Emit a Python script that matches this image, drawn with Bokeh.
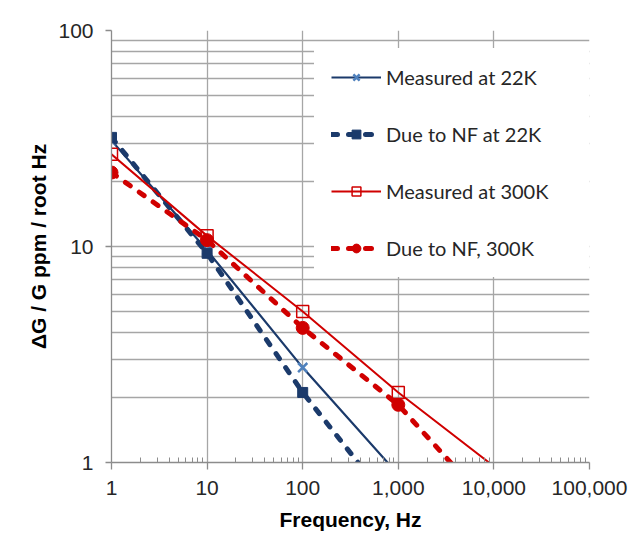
from bokeh.plotting import figure
from bokeh.models import FixedTicker, NumeralTickFormatter, Legend, LegendItem
from bokeh.embed import file_html
from bokeh.resources import INLINE

# ---- data ----
freq = [1, 10, 100, 1000, 10000]
meas_22k = [31, 9.6, 2.75, 0.88]
nf_22k = [32, 9.3, 2.11, 0.58]
meas_300k = [26.7, 11.2, 5.0, 2.11, 0.96]
nf_300k = [22, 10.7, 4.2, 1.85, 0.6]

x_ticks = [1, 10, 100, 1000, 10000, 100000]
y_ticks = [1, 10, 100]
x_minor = [m * 10 ** k for k in range(5) for m in range(2, 10)]
y_minor = [m * 10 ** k for k in range(2) for m in range(2, 10)]

NAVY = "#1B3A6B"
LBLUE = "#4F81BD"
RED = "#D00000"
GRID = "#A6A6A6"
AXIS = "#8C8C8C"
TXT = "#262626"
FONT = "Liberation Sans"

p = figure(width=630, height=555, x_axis_type="log", y_axis_type="log",
           x_range=(1, 100000), y_range=(1, 100),
           output_backend="svg", toolbar_location=None,
           min_border_left=111, min_border_right=41,
           min_border_top=30, min_border_bottom=93)
p.outline_line_color = None
p.background_fill_color = "white"
p.border_fill_color = "white"


def visible(xs, ys):
    pts = [(a, b) for a, b in zip(xs, ys) if b >= 1]
    return [a for a, _ in pts], [b for _, b in pts]


r1 = p.line(freq[:len(meas_22k)], meas_22k, line_color=NAVY, line_width=2.2)
mx, my = visible(freq, meas_22k)
r1m = p.scatter(mx, my, marker="x", size=13, line_color=LBLUE, line_width=2.5)

r2 = p.line(freq[:len(nf_22k)], nf_22k, line_color=NAVY, line_width=5,
            line_dash="6 11", line_cap="round")
mx, my = visible(freq, nf_22k)
r2m = p.scatter(mx, my, marker="square", size=10, fill_color=NAVY, line_color=NAVY)

r3 = p.line(freq[:len(meas_300k)], meas_300k, line_color=RED, line_width=2)
mx, my = visible(freq, meas_300k)
r3m = p.scatter(mx, my, marker="square", size=12, fill_color="white", fill_alpha=0,
                line_color=RED, line_width=1.5)

r4 = p.line(freq[:len(nf_300k)], nf_300k, line_color=RED, line_width=5,
            line_dash="6 11", line_cap="round")
mx, my = visible(freq, nf_300k)
r4m = p.scatter(mx, my, marker="circle", size=13, fill_color=RED, line_color=RED)

# ---- axes ----
p.xaxis.ticker = FixedTicker(ticks=x_ticks, minor_ticks=x_minor)
p.yaxis.ticker = FixedTicker(ticks=y_ticks, minor_ticks=y_minor)
p.xaxis.formatter = NumeralTickFormatter(format="0,0")
p.yaxis.formatter = NumeralTickFormatter(format="0,0")

for ax in (p.xaxis, p.yaxis):
    ax.axis_line_color = AXIS
    ax.axis_line_width = 1.3
    ax.major_tick_line_color = AXIS
    ax.major_tick_line_width = 1.3
    ax.major_tick_in = 0
    ax.major_label_text_font = FONT
    ax.major_label_text_font_size = "21px"
    ax.major_label_text_color = TXT
    ax.axis_label_text_font = FONT
    ax.axis_label_text_font_size = "21px"
    ax.axis_label_text_font_style = "bold"
    ax.axis_label_text_color = "black"

p.xaxis.major_tick_out = 7
p.xaxis.minor_tick_in = 5
p.xaxis.minor_tick_out = 0
p.xaxis.minor_tick_line_color = AXIS
p.xaxis.major_label_standoff = 11
p.xaxis.axis_label = "Frequency, Hz"
p.xaxis.axis_label_standoff = 10

p.yaxis.major_tick_out = 6
p.yaxis.minor_tick_line_color = None
p.yaxis.major_label_standoff = 12
p.yaxis.axis_label = "ΔG / G ppm / root Hz"
p.yaxis.axis_label_standoff = 5

p.xgrid.grid_line_color = GRID
p.xgrid.grid_line_width = 1.3
p.xgrid.minor_grid_line_color = None
p.ygrid.grid_line_color = GRID
p.ygrid.grid_line_width = 1.3
p.ygrid.minor_grid_line_color = GRID
p.ygrid.minor_grid_line_width = 1.3

# ---- legend ----
legend = Legend(items=[
    LegendItem(label="Measured at 22K", renderers=[r1, r1m]),
    LegendItem(label="Due to NF at 22K", renderers=[r2, r2m]),
    LegendItem(label="Measured at 300K", renderers=[r3, r3m]),
    LegendItem(label="Due to NF, 300K", renderers=[r4, r4m]),
], location=(203, 185))
legend.padding = 16
legend.margin = 0
legend.glyph_width = 50
legend.glyph_height = 22
legend.label_height = 22
legend.label_width = 188
legend.label_standoff = 5
legend.spacing = 33
legend.border_line_color = "white"
legend.border_line_width = 1
legend.background_fill_color = "white"
legend.background_fill_alpha = 1
legend.label_text_font = "Lato"
legend.label_text_font_size = "20px"
legend.label_text_color = TXT
p.add_layout(legend, "center")

open("out.html", "w").write(file_html(p, INLINE))
